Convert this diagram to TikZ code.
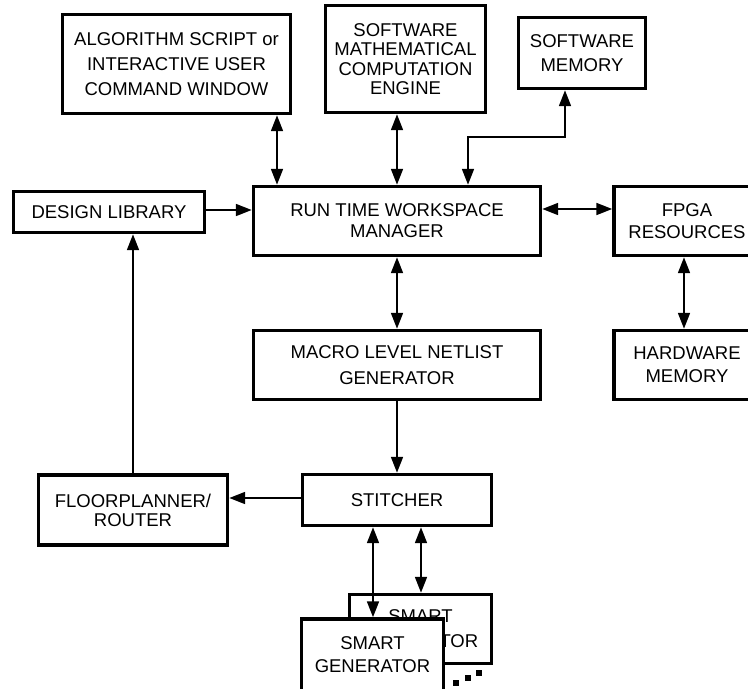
\documentclass[tikz,border=0pt]{standalone}
\usepackage{fontspec}
\setmainfont{Liberation Sans}
\usetikzlibrary{arrows.meta}
\tikzset{
  x=1pt, y=-1pt,
  box/.style={draw, line width=3.1pt, fill=white, inner sep=0pt, align=center,
    font=\fontsize{18.5}{22}\selectfont},
  lead/.style={font=\fontsize{18.5}{#1}\selectfont},
  tip/.tip={Triangle[length=16pt,width=11.5pt]},
  arr/.style={line width=2.9pt, -tip},
  darr/.style={line width=2.9pt, tip-tip},
  dotsq/.style={fill, inner sep=0pt, minimum size=6pt}
}
\begin{document}
\begin{tikzpicture}
\useasboundingbox (0,0) rectangle (748,689);
\clip (0,0) rectangle (748,689);
\fill[white] (0,0) rectangle (748,689);

\node[box, lead=25, minimum width=228pt, minimum height=99pt] (algo) at (176.5,64)
  {ALGORITHM SCRIPT or\\INTERACTIVE USER\\COMMAND WINDOW};
\node[box, lead=19.5, minimum width=160pt, minimum height=107pt] (math) at (405.5,59)
  {SOFTWARE\\MATHEMATICAL\\COMPUTATION\\ENGINE};
\node[box, lead=24, minimum width=127pt, minimum height=71pt] (swmem) at (582,53)
  {SOFTWARE\\MEMORY};
\node[box, minimum width=191pt, minimum height=41pt] (dl) at (109,212)
  {DESIGN LIBRARY};
\node[box, lead=21, minimum width=287pt, minimum height=69pt] (rtwm) at (397,221)
  {RUN TIME WORKSPACE\\MANAGER};
\node[box, lead=22, minimum width=146pt, minimum height=69pt] (fpga) at (687,221)
  {FPGA\\RESOURCES};
\node[box, lead=26, minimum width=287pt, minimum height=69pt] (macro) at (397,365)
  {MACRO LEVEL NETLIST\\GENERATOR};
\node[box, lead=23, minimum width=146pt, minimum height=69pt] (hw) at (687,365)
  {HARDWARE\\MEMORY};
\node[box, minimum width=189pt, minimum height=51pt] (stitch) at (397,500)
  {STITCHER};
\node[box, lead=19, minimum width=189pt, minimum height=70pt] (floor) at (133,510)
  {FLOORPLANNER/\\ROUTER};
\node[box, lead=25, minimum width=142pt, minimum height=69pt] (smartB) at (420.5,629)
  {SMART\\GENERATOR};

\coordinate (xA) at (277,0);
\coordinate (xB) at (397,0);
\coordinate (xC) at (468,0);
\coordinate (xC2) at (468,137);
\coordinate (xD) at (565,137);
\coordinate (xE) at (684,0);
\coordinate (xF) at (133,0);
\coordinate (xG) at (373,0);
\coordinate (xH) at (421,0);
\coordinate (yA) at (0,210);
\coordinate (yB) at (0,209);
\coordinate (yC) at (0,498);

\draw[darr] (algo.south -| xA) -- (rtwm.north -| xA);
\draw[darr] (math.south -| xB) -- (rtwm.north -| xB);
\draw[darr] (rtwm.north -| xC) -- (xC2) -- (xD) -- (swmem.south -| xD);
\draw[arr] (dl.east |- yA) -- (rtwm.west |- yA);
\draw[darr] (rtwm.east |- yB) -- (fpga.west |- yB);
\draw[darr] (rtwm.south -| xB) -- (macro.north -| xB);
\draw[darr] (fpga.south -| xE) -- (hw.north -| xE);
\draw[arr] (macro.south -| xB) -- (stitch.north -| xB);
\draw[arr] (stitch.west |- yC) -- (floor.east |- yC);
\draw[arr] (floor.north -| xF) -- (dl.south -| xF);
\draw[darr] (stitch.south -| xH) -- (smartB.north -| xH);

\node[box, lead=23, minimum width=142pt, minimum height=72pt] (smartA) at (372.5,655)
  {SMART\\GENERATOR};
\draw[darr] (stitch.south -| xG) -- (smartA.north -| xG);

\node[dotsq] (d1) at (455.5,683) {};
\node[dotsq] (d2) at (467.5,677.5) {};
\node[dotsq] (d3) at (479,672.5) {};
\end{tikzpicture}
\end{document}
